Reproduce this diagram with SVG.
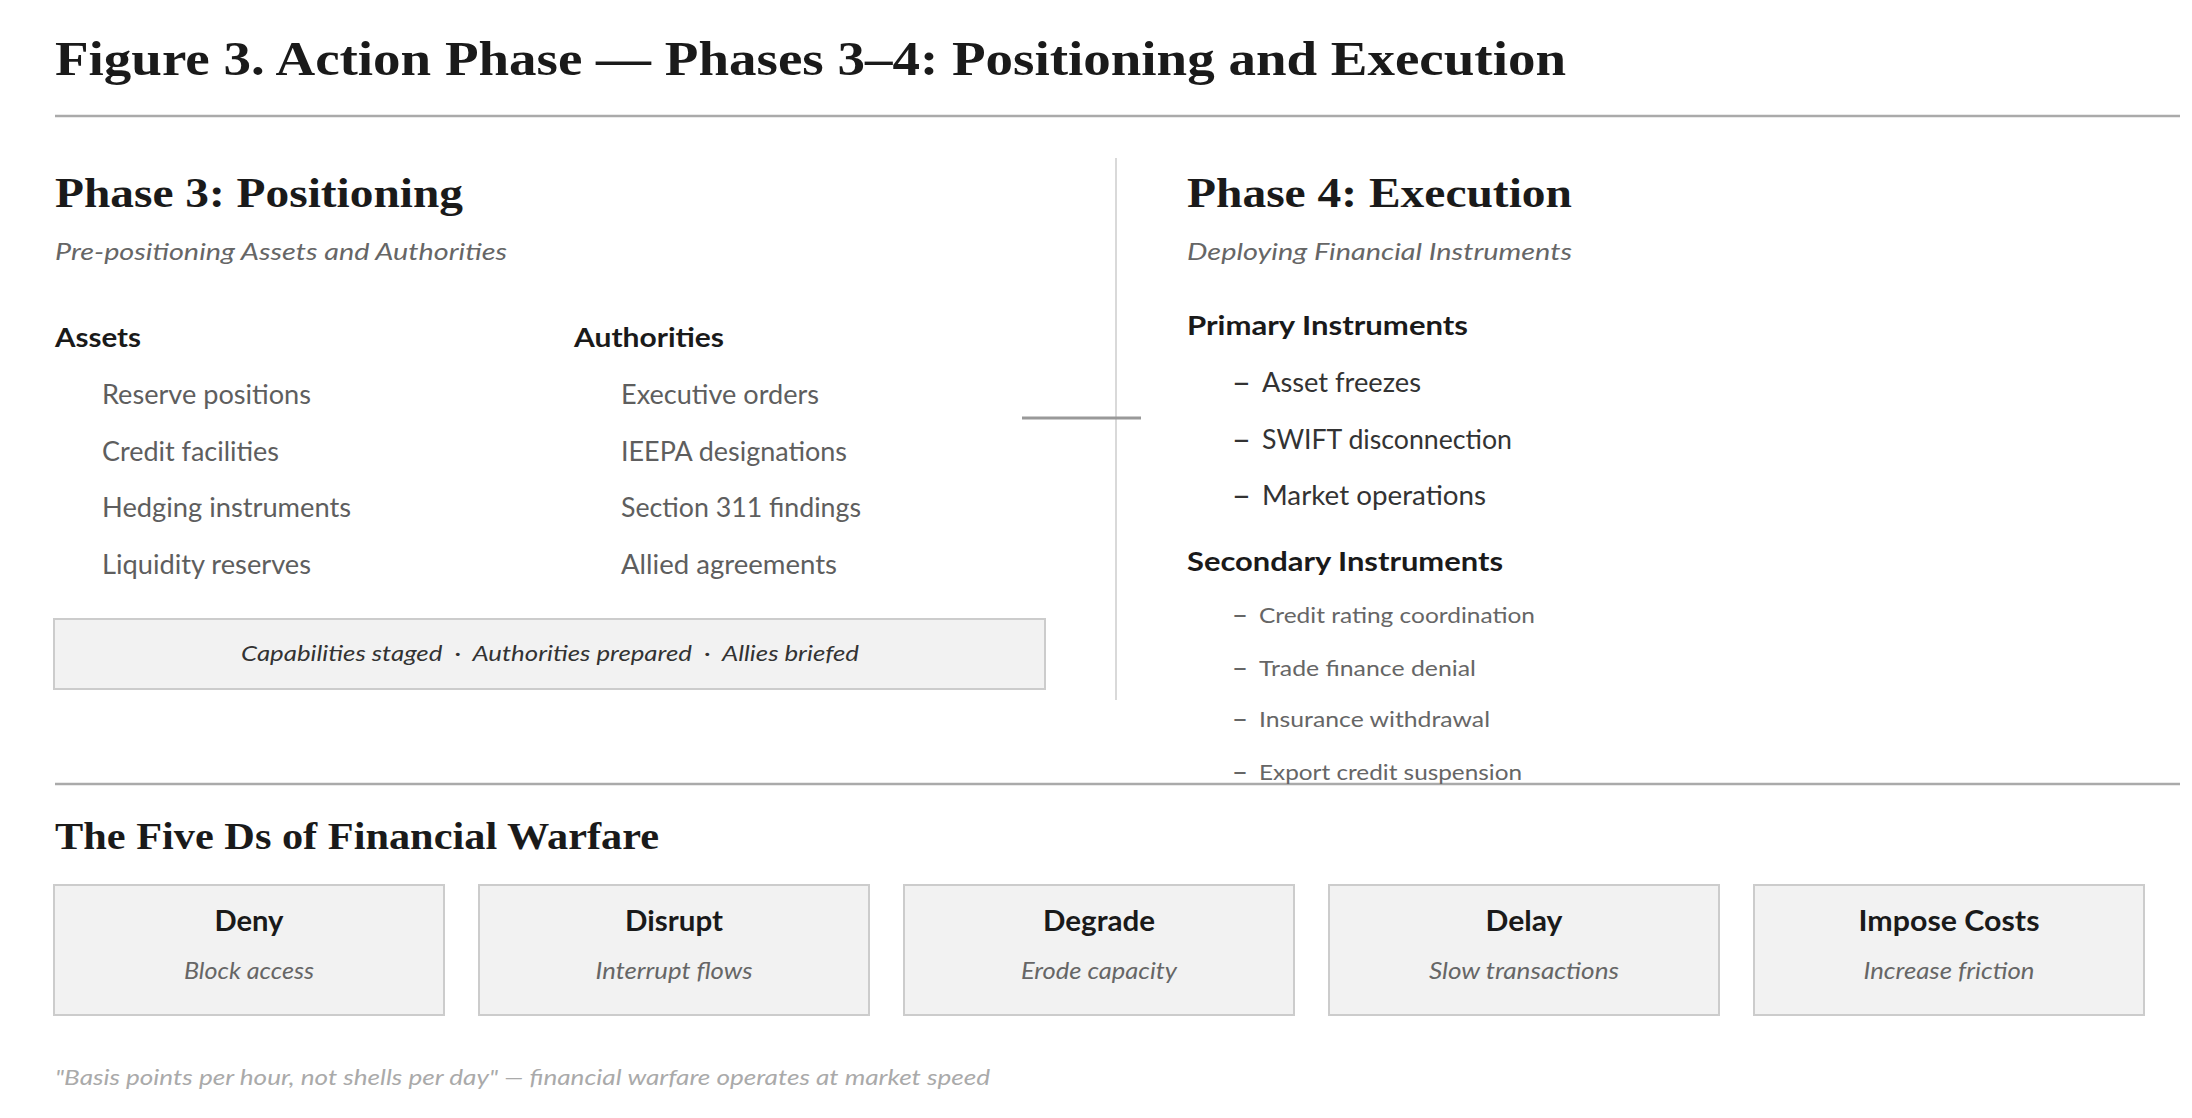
<svg xmlns="http://www.w3.org/2000/svg" width="2192" height="1118" viewBox="0 0 2192 1118">
<style>
.serif{font-family:"Liberation Serif","Times New Roman",serif;font-weight:bold;fill:#1a1a1a}
.sans{font-family:Lato,"Liberation Sans",sans-serif}
.h{font-weight:bold;fill:#1a1a1a;font-size:26px}
.sub{font-style:italic;fill:#666;font-size:24px}
.item{fill:#5e5e5e;font-size:26px}
.prim{fill:#333;font-size:26px}
.sec{fill:#666;font-size:22px}
.dash{font-weight:bold}
.bt{font-weight:bold;fill:#1a1a1a;font-size:28px}
.bs{font-style:italic;fill:#666;font-size:23px}
.box{fill:#f2f2f2;stroke:#cccccc;stroke-width:2}
.rule{stroke:#aaaaaa;stroke-width:2.5}
</style>
<rect width="2192" height="1118" fill="#ffffff"/>
<g id="title">
<text class="serif" x="55" y="75" font-size="48" textLength="1511" lengthAdjust="spacingAndGlyphs">Figure 3. Action Phase — Phases 3–4: Positioning and Execution</text>
</g>
<g id="connectors">
<line class="rule" x1="55" y1="116" x2="2180" y2="116"/>
<line x1="1116" y1="158" x2="1116" y2="700" stroke="#cccccc" stroke-width="1.5"/>
<line x1="1022" y1="418" x2="1141" y2="418" stroke="#999999" stroke-width="3"/>
<line class="rule" x1="55" y1="784" x2="2180" y2="784"/>
</g>
<g id="phase3">
<text class="serif" x="55" y="207" font-size="42" textLength="408" lengthAdjust="spacingAndGlyphs">Phase 3: Positioning</text>
<text class="sans sub" x="55" y="260" textLength="452" lengthAdjust="spacingAndGlyphs">Pre-positioning Assets and Authorities</text>
<g id="assets">
<text class="sans h" x="55" y="347" textLength="86" lengthAdjust="spacingAndGlyphs">Assets</text>
<text class="sans item" x="102" y="404" textLength="209" lengthAdjust="spacingAndGlyphs">Reserve positions</text>
<text class="sans item" x="102" y="461" textLength="177" lengthAdjust="spacingAndGlyphs">Credit facilities</text>
<text class="sans item" x="102" y="517" textLength="249" lengthAdjust="spacingAndGlyphs">Hedging instruments</text>
<text class="sans item" x="102" y="574" textLength="209" lengthAdjust="spacingAndGlyphs">Liquidity reserves</text>
</g>
<g id="authorities">
<text class="sans h" x="574" y="347" textLength="150" lengthAdjust="spacingAndGlyphs">Authorities</text>
<text class="sans item" x="621" y="404" textLength="198" lengthAdjust="spacingAndGlyphs">Executive orders</text>
<text class="sans item" x="621" y="461" textLength="226" lengthAdjust="spacingAndGlyphs">IEEPA designations</text>
<text class="sans item" x="621" y="517" textLength="240" lengthAdjust="spacingAndGlyphs">Section 311 findings</text>
<text class="sans item" x="621" y="574" textLength="216" lengthAdjust="spacingAndGlyphs">Allied agreements</text>
</g>
<g id="status-box">
<rect class="box" x="54" y="619" width="991" height="70"/>
<text class="sans" x="550" y="661" font-size="22" font-style="italic" fill="#333" text-anchor="middle" textLength="618" lengthAdjust="spacingAndGlyphs">Capabilities staged&#160;&#160;·&#160;&#160;Authorities prepared&#160;&#160;·&#160;&#160;Allies briefed</text>
</g>
</g>
<g id="phase4">
<text class="serif" x="1187" y="207" font-size="42" textLength="385" lengthAdjust="spacingAndGlyphs">Phase 4: Execution</text>
<text class="sans sub" x="1187" y="260" textLength="385" lengthAdjust="spacingAndGlyphs">Deploying Financial Instruments</text>
<g id="primary">
<text class="sans h" x="1187" y="335" textLength="281" lengthAdjust="spacingAndGlyphs">Primary Instruments</text>
<text class="sans prim dash" transform="translate(1232,392) scale(1.25,1)">–</text>
<text class="sans prim" x="1262" y="392" textLength="159" lengthAdjust="spacingAndGlyphs">Asset freezes</text>
<text class="sans prim dash" transform="translate(1232,449) scale(1.25,1)">–</text>
<text class="sans prim" x="1262" y="449" textLength="250" lengthAdjust="spacingAndGlyphs">SWIFT disconnection</text>
<text class="sans prim dash" transform="translate(1232,505) scale(1.25,1)">–</text>
<text class="sans prim" x="1262" y="505" textLength="224" lengthAdjust="spacingAndGlyphs">Market operations</text>
</g>
<g id="secondary">
<text class="sans h" x="1187" y="571" textLength="316" lengthAdjust="spacingAndGlyphs">Secondary Instruments</text>
<text class="sans sec dash" transform="translate(1232,623) scale(1.25,1)">–</text>
<text class="sans sec" x="1259" y="623" textLength="276" lengthAdjust="spacingAndGlyphs">Credit rating coordination</text>
<text class="sans sec dash" transform="translate(1232,676) scale(1.25,1)">–</text>
<text class="sans sec" x="1259" y="676" textLength="217" lengthAdjust="spacingAndGlyphs">Trade finance denial</text>
<text class="sans sec dash" transform="translate(1232,727) scale(1.25,1)">–</text>
<text class="sans sec" x="1259" y="727" textLength="231" lengthAdjust="spacingAndGlyphs">Insurance withdrawal</text>
<text class="sans sec dash" transform="translate(1232,780) scale(1.25,1)">–</text>
<text class="sans sec" x="1259" y="780" textLength="263" lengthAdjust="spacingAndGlyphs">Export credit suspension</text>
</g>
</g>
<g id="five-ds">
<text class="serif" x="55" y="849" font-size="38" textLength="604" lengthAdjust="spacingAndGlyphs">The Five Ds of Financial Warfare</text>
<g id="deny">
<rect class="box" x="54" y="885" width="390" height="130"/>
<text class="sans bt" x="249" y="931" text-anchor="middle" textLength="69" lengthAdjust="spacingAndGlyphs">Deny</text>
<text class="sans bs" x="249" y="979" text-anchor="middle" textLength="130" lengthAdjust="spacingAndGlyphs">Block access</text>
</g>
<g id="disrupt">
<rect class="box" x="479" y="885" width="390" height="130"/>
<text class="sans bt" x="674" y="931" text-anchor="middle" textLength="98" lengthAdjust="spacingAndGlyphs">Disrupt</text>
<text class="sans bs" x="674" y="979" text-anchor="middle" textLength="157" lengthAdjust="spacingAndGlyphs">Interrupt flows</text>
</g>
<g id="degrade">
<rect class="box" x="904" y="885" width="390" height="130"/>
<text class="sans bt" x="1099" y="931" text-anchor="middle" textLength="112" lengthAdjust="spacingAndGlyphs">Degrade</text>
<text class="sans bs" x="1099" y="979" text-anchor="middle" textLength="156" lengthAdjust="spacingAndGlyphs">Erode capacity</text>
</g>
<g id="delay">
<rect class="box" x="1329" y="885" width="390" height="130"/>
<text class="sans bt" x="1524" y="931" text-anchor="middle" textLength="77" lengthAdjust="spacingAndGlyphs">Delay</text>
<text class="sans bs" x="1524" y="979" text-anchor="middle" textLength="190" lengthAdjust="spacingAndGlyphs">Slow transactions</text>
</g>
<g id="impose-costs">
<rect class="box" x="1754" y="885" width="390" height="130"/>
<text class="sans bt" x="1949" y="931" text-anchor="middle" textLength="181" lengthAdjust="spacingAndGlyphs">Impose Costs</text>
<text class="sans bs" x="1949" y="979" text-anchor="middle" textLength="171" lengthAdjust="spacingAndGlyphs">Increase friction</text>
</g>
</g>
<g id="quote">
<text class="sans" x="55" y="1085" font-size="22" font-style="italic" fill="#aaaaaa" textLength="935" lengthAdjust="spacingAndGlyphs">"Basis points per hour, not shells per day" — financial warfare operates at market speed</text>
</g>
</svg>
